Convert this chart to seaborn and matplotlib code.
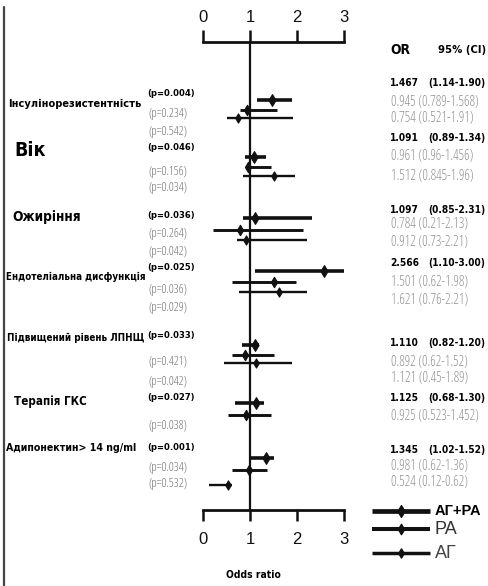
import matplotlib
matplotlib.use("Agg")
import matplotlib.pyplot as plt
import matplotlib.font_manager as fm
import seaborn as sns
import pandas as pd

# ---- data -------------------------------------------------------------
factors = [
    "Інсулінорезистентність",
    "Вік",
    "Ожиріння",
    "Ендотеліальна дисфункція",
    "Підвищений рівень ЛПНЩ",
    "Терапія ГКС",
    "Адипонектин> 14 ng/ml",
]
series = ["АГ+РА", "РА", "АГ"]

# odds ratios with 95% CI (as printed), one list per series
or_agra = ["1.467", "1.091", "1.097", "2.566", "1.110", "1.125", "1.345"]
ci_agra = [("1.14", "1.90"), ("0.89", "1.34"), ("0.85", "2.31"), ("1.10", "3.00"),
           ("0.82", "1.20"), ("0.68", "1.30"), ("1.02", "1.52")]
p_agra = ["0.004", "0.046", "0.036", "0.025", "0.033", "0.027", "0.001"]

or_ra = ["0.945", "0.961", "0.784", "1.501", "0.892", "0.925", "0.981"]
ci_ra = [("0.789", "1.568"), ("0.96", "1.456"), ("0.21", "2.13"), ("0.62", "1.98"),
         ("0.62", "1.52"), ("0.523", "1.452"), ("0.62", "1.36")]
p_ra = ["0.234", "0.156", "0.264", "0.036", "0.421", "0.038", "0.034"]

or_ag = ["0.754", "1.512", "0.912", "1.621", "1.121", None, "0.524"]
ci_ag = [("0.521", "1.91"), ("0.845", "1.96"), ("0.73", "2.21"), ("0.76", "2.21"),
         ("0.45", "1.89"), None, ("0.12", "0.62")]
p_ag = ["0.542", "0.034", "0.042", "0.029", "0.042", None, "0.532"]

x_ticks = [0, 1, 2, 3]

# ---- layout (figure pixels, y measured from the top) ------------------
W, H = 488, 586
AX_X0, AX_X1 = 203, 344
AX_TOP, AX_BOT = 42, 510

line_y = [[100, 110, 118], [157, 167, 176], [218, 230, 240], [271, 282, 292],
          [345, 355, 363], [403, 415, None], [458, 470, 485]]
# (x, y, width) of each factor label
label_box = [(8, 104, 132), (14, 150, 31), (12, 217, 68), (6, 277, 138),
             (7, 338, 135), (14, 402, 72), (6, 448, 130)]
p_y = [[93, 113, 132], [148, 172, 188], [215, 233, 252], [268, 289, 308],
       [335, 362, 382], [398, 425, None], [447, 467, 483]]
or_y = [[83, 102, 118], [138, 157, 176], [210, 225, 242], [263, 283, 300],
        [343, 362, 378], [398, 417, None], [450, 467, 483]]

line_w = {"АГ+РА": 2.6, "РА": 2.1, "АГ": 1.7}
mark_s = {"АГ+РА": 36, "РА": 28, "АГ": 22}
ink = "#111111"

# ---- assemble long-form table -----------------------------------------
rows = []
for s_i, (name, ors, cis) in enumerate(zip(series, [or_agra, or_ra, or_ag],
                                            [ci_agra, ci_ra, ci_ag])):
    for f_i, f in enumerate(factors):
        if ors[f_i] is None:
            continue
        rows.append({"factor": f, "series": name,
                     "or": float(ors[f_i]),
                     "lo": float(cis[f_i][0]), "hi": float(cis[f_i][1]),
                     "y": line_y[f_i][s_i]})
df = pd.DataFrame(rows)

# ---- style --------------------------------------------------------------
sns.set_theme(style="white")
plt.rcParams["font.family"] = ["Liberation Sans", "DejaVu Sans"]

WEIGHTS = {"ultralight": 200, "light": 300, "normal": 400, "regular": 400, "book": 400,
           "medium": 500, "roman": 400, "semibold": 600, "demibold": 600,
           "demi": 600, "bold": 700, "heavy": 800, "extra bold": 800, "black": 900}


def stretch_rank(f):
    name = f.fname.lower()
    if "semicondensed" in name or str(f.stretch) == "semi-condensed":
        return 1
    if "extracondensed" in name or str(f.stretch) in ("extra-condensed", "ultra-condensed"):
        return 2
    if "condensed" in name or "narrow" in name or str(f.stretch) == "condensed":
        return 0
    return None


def narrow_face(target):
    """Condensed face with Cyrillic coverage and a weight near target, if installed."""
    wanted = ["Liberation Sans Narrow", "Noto Sans", "Roboto", "Open Sans", "DejaVu Sans"]
    for fam in wanted:
        cands = []
        for f in fm.fontManager.ttflist:
            if f.name != fam or f.style != "normal" or "italic" in f.fname.lower():
                continue
            r = stretch_rank(f)
            if r is None:
                continue
            w = f.weight if isinstance(f.weight, int) else WEIGHTS.get(str(f.weight), 400)
            cands.append((abs(w - target), r, f.fname))
        if cands:
            best = min(cands)
            if best[0] <= 150:
                return fm.FontProperties(fname=best[2])
    return fm.FontProperties(family=["Liberation Sans", "DejaVu Sans"],
                             weight="bold" if target >= 600 else "normal")


fp_bold = narrow_face(700)
fp_reg = narrow_face(400)

fig = plt.figure(figsize=(W / 100, H / 100), dpi=100)
fig.patch.set_facecolor("white")

# ---- forest axes --------------------------------------------------------
ax = fig.add_axes([AX_X0 / W, 1 - AX_BOT / H, (AX_X1 - AX_X0) / W, (AX_BOT - AX_TOP) / H])
ax.set_facecolor("none")
ax.set_xlim(0, 3)
ax.set_ylim(AX_BOT, AX_TOP)

ax.axvline(1, color=ink, lw=1.6, zorder=1)

for name in series:
    d = df[df["series"] == name]
    ax.hlines(d["y"], d["lo"], d["hi"], color=ink, lw=line_w[name], zorder=2)
    sns.scatterplot(data=d, x="or", y="y", ax=ax, marker="d", s=mark_s[name],
                    color=ink, edgecolor=ink, linewidth=0.8, zorder=3, legend=False)

for side in ["left", "right", "top"]:
    ax.spines[side].set_visible(False)
ax.spines["bottom"].set_color(ink)
ax.spines["bottom"].set_linewidth(2.0)
ax.set_yticks([])
ax.set_xticks(x_ticks)
ax.set_xticklabels([str(t) for t in x_ticks])
ax.tick_params(axis="x", bottom=True, top=False, labelbottom=True, labeltop=False,
               direction="out", length=8, width=1.8, color=ink, labelsize=12,
               pad=8, labelcolor=ink)
ax.set_xlabel("")
ax.set_ylabel("")

top = ax.secondary_xaxis("top")
top.set_xticks(x_ticks)
top.set_xticklabels([str(t) for t in x_ticks])
top.spines["top"].set_color(ink)
top.spines["top"].set_linewidth(2.0)
top.tick_params(axis="x", direction="out", length=8.5, width=1.8, color=ink,
                labelsize=12, pad=4, labelcolor=ink)

# ---- text overlay ------------------------------------------------------
tx = fig.add_axes([0, 0, 1, 1])
tx.set_xlim(0, W)
tx.set_ylim(H, 0)
tx.axis("off")
tx.set_facecolor("none")

# groups of texts sharing one size: key -> [sample artist, target width, artists]
groups = {}


def put(key, x, y, s, width=None, bold=False, **kw):
    t = tx.text(x, y, s, ha="left", va="center",
                fontproperties=(fp_bold if bold else fp_reg).copy(), **kw)
    t.set_fontsize(10)
    g = groups.setdefault(key, [None, None, []])
    if width is not None:
        g[0], g[1] = t, width
    g[2].append(t)
    return t


# frame line on the left
tx.plot([4, 4], [7, H], color="#444444", lw=1.6)

for f_i, f in enumerate(factors):
    x, y, w = label_box[f_i]
    put(f"label{f_i}", x, y, f, w, bold=True, color="black")

p_lists = [p_agra, p_ra, p_ag]
or_lists = [or_agra, or_ra, or_ag]
ci_lists = [ci_agra, ci_ra, ci_ag]
for f_i in range(len(factors)):
    for s_i in range(3):
        p = p_lists[s_i][f_i]
        if p is None:
            continue
        lo, hi = ci_lists[s_i][f_i]
        first = f_i == 0
        if s_i == 0:
            put("p_bold", 147, p_y[f_i][s_i], f"(p={p})", 48 if first else None,
                bold=True, color="black")
            put("or_bold", 390, or_y[f_i][s_i], or_lists[s_i][f_i], None,
                bold=True, color="black")
            put("or_bold", 428, or_y[f_i][s_i], f"({lo}-{hi})", 57 if first else None,
                bold=True, color="black")
        else:
            put("p_gray", 148, p_y[f_i][s_i], f"(p={p})", 39 if first and s_i == 1 else None,
                color="#707070")
            put("or_gray", 391, or_y[f_i][s_i], f"{or_lists[s_i][f_i]} ({lo}-{hi})",
                87 if first and s_i == 1 else None, color="#929292")

put("or_head", 390, 50, "OR", 20, bold=True, color="black")
put("ci_head", 438, 50, "95% (CI)", 48, bold=True, color="black")
put("xlabel", 226, 575, "Odds ratio", 54, bold=True, color="black")

# size each group so that its sample text spans the given width
fig.canvas.draw()
renderer = fig.canvas.get_renderer()
for sample, width, members in groups.values():
    bb = sample.get_window_extent(renderer)
    size = sample.get_fontsize() * width / bb.width
    for t in members:
        t.set_fontsize(size)

# legend
leg_y = {"АГ+РА": 511, "РА": 529, "АГ": 553}
leg_fs = {"АГ+РА": 10.5, "РА": 13, "АГ": 13}
leg_c = {"АГ+РА": "black", "РА": "#333333", "АГ": "#444444"}
for name in series:
    y = leg_y[name]
    tx.plot([372, 430], [y, y], color=ink, lw=line_w[name] + 0.8, solid_capstyle="butt")
    tx.scatter([401], [y], marker="d", s=mark_s[name], color=ink, zorder=3)
    tx.text(435, y, name, ha="left", va="center", fontsize=leg_fs[name],
            fontweight="bold" if name == "АГ+РА" else "normal", color=leg_c[name])

fig.savefig("out.png", dpi=100, facecolor="white")
